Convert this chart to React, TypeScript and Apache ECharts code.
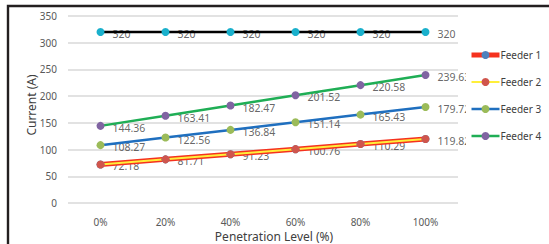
import React, { useEffect, useRef } from "react";
import * as echarts from "echarts";

const categories = ["0%", "20%", "40%", "60%", "80%", "100%"];
const feeder1 = [72.18, 81.71, 91.23, 100.76, 110.29, 119.82];
const feeder2 = [72.18, 81.71, 91.23, 100.76, 110.29, 119.82];
const feeder3 = [108.27, 122.56, 136.84, 151.14, 165.43, 179.72];
const feeder4 = [144.36, 163.41, 182.47, 201.52, 220.58, 239.63];
const limit = [320, 320, 320, 320, 320, 320];
const xTitle = "Penetration Level (%)";
const yTitle = "Current (A)";

const FONT = "Noto Sans";

function lineSeries(name: string, data: number[], lineColor: string, width: number, markerColor: string) {
  return {
    name,
    type: "line",
    data,
    z: 3,
    symbol: "circle",
    symbolSize: 8,
    showSymbol: true,
    lineStyle: { color: lineColor, width },
    itemStyle: { color: markerColor },
    label: { show: false },
    emphasis: { disabled: true },
  };
}

function labelSeries(name: string, data: number[]) {
  return {
    name,
    type: "scatter",
    data,
    z: 2,
    silent: true,
    symbol: "circle",
    symbolSize: 8,
    itemStyle: { color: "rgba(0,0,0,0)" },
    label: {
      show: true,
      position: "right",
      distance: 8,
      offset: [0, 2],
      color: "#404040",
      fontSize: 10.5,
      fontFamily: FONT,
      formatter: (p: any) => String(p.value),
    },
    emphasis: { disabled: true },
  };
}

export default function App() {
  const ref = useRef<HTMLDivElement>(null);
  useEffect(() => {
    document.body.style.margin = "0";
    const chart = echarts.init(ref.current!, null, { renderer: "svg" });
    chart.setOption({
      animation: false,
      backgroundColor: "#fff",
      textStyle: { fontFamily: FONT },
      grid: { left: 68, right: 91, top: 16, bottom: 41 },
      graphic: [
        {
          type: "rect",
          shape: { x: 8, y: 6, width: 700, height: 400 },
          style: { fill: "none", stroke: "#231f20", lineWidth: 2.4 },
          z: 10,
          silent: true,
        },
        {
          type: "text",
          x: 274,
          y: 236,
          silent: true,
          style: {
            text: xTitle,
            fill: "#404040",
            font: `12px "${FONT}"`,
            align: "center",
            verticalAlign: "middle",
          },
        },
        {
          type: "text",
          x: 31,
          y: 105,
          rotation: Math.PI / 2,
          silent: true,
          style: {
            text: yTitle,
            fill: "#404040",
            font: `12px "${FONT}"`,
            align: "center",
            verticalAlign: "middle",
          },
        },
      ],
      legend: {
        data: [
          { name: "Feeder 1", lineStyle: { width: 5 } },
          { name: "Feeder 2", lineStyle: { width: 2 } },
          { name: "Feeder 3", lineStyle: { width: 2.5 } },
          { name: "Feeder 4", lineStyle: { width: 2.5 } },
        ],
        orient: "vertical",
        left: 466,
        top: 45,
        padding: [5, 6, 6, 3],
        backgroundColor: "#fff",
        itemWidth: 28,
        itemHeight: 10,
        itemGap: 17,
        textStyle: { color: "#404040", fontSize: 10, fontFamily: FONT, padding: [0, 0, 0, -4] },
        z: 5,
      },
      xAxis: {
        type: "category",
        data: categories,
        boundaryGap: true,
        axisLine: { show: false },
        axisTick: { show: false },
        axisLabel: { color: "#595959", fontSize: 10, margin: 14, fontFamily: FONT },
      },
      yAxis: {
        type: "value",
        min: 0,
        max: 350,
        interval: 50,
        axisLine: { show: false },
        axisTick: { show: false },
        axisLabel: { color: "#595959", fontSize: 10, margin: 11, fontFamily: FONT },
        splitLine: { lineStyle: { color: "#d9d9d9", width: 1.5 } },
      },
      series: [
        lineSeries("Feeder 1", feeder1, "#f5321e", 5, "#4f81bd"),
        lineSeries("Feeder 2", feeder2, "#ffef3a", 2, "#d0554c"),
        lineSeries("Feeder 3", feeder3, "#1f6fbf", 2.5, "#9bbb59"),
        lineSeries("Feeder 4", feeder4, "#1fae55", 2.5, "#8064a2"),
        lineSeries("Limit", limit, "#000000", 2.5, "#1ab0cc"),
        labelSeries("lbl2", feeder2),
        labelSeries("lbl3", feeder3),
        labelSeries("lbl4", feeder4),
        labelSeries("lblLimit", limit),
      ],
    });
    return () => chart.dispose();
  }, []);
  return <div ref={ref} style={{ position: "absolute", left: 0, top: 0, width: 549, height: 244 }} />;
}
